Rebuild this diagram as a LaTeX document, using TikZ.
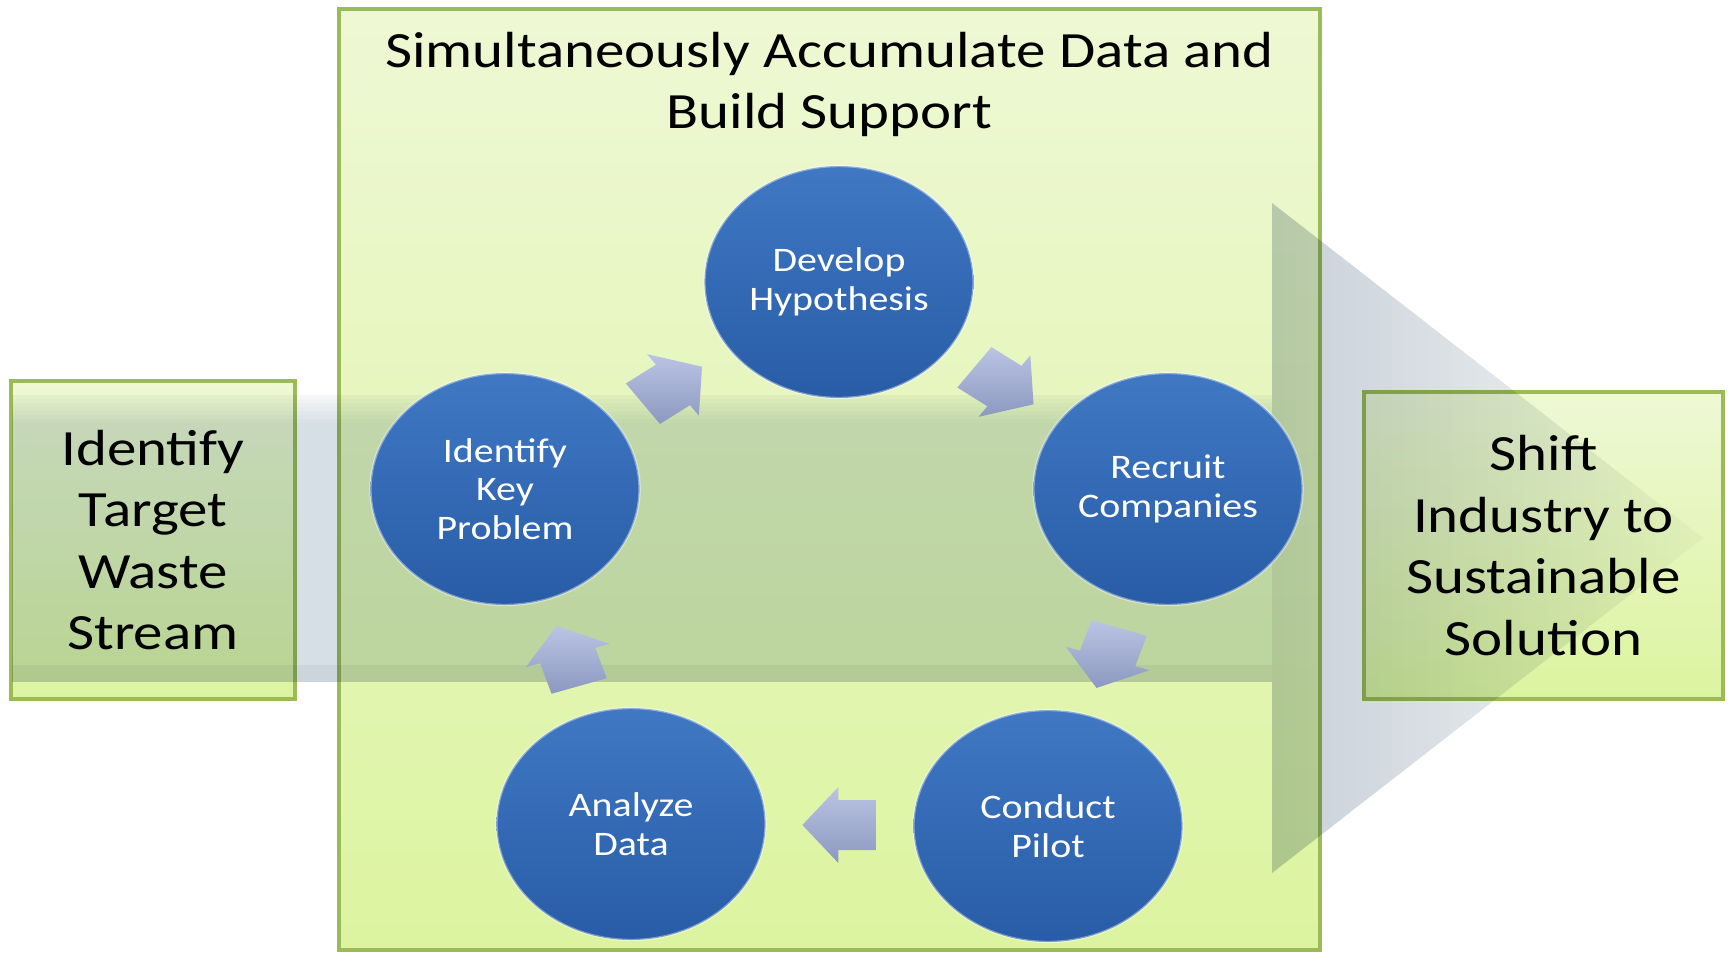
\documentclass[tikz,border=0pt]{standalone}
\usepackage{fontspec}
\setmainfont{Carlito}
\usetikzlibrary{calc}

\definecolor{boxline}{RGB}{155,187,89}
\definecolor{boxtop}{RGB}{238,248,212}
\definecolor{boxbot}{RGB}{220,244,160}
\definecolor{bandtop}{RGB}{244,246,247}
\definecolor{bandmid}{RGB}{214,222,230}
\definecolor{bandbot}{RGB}{204,212,222}
\definecolor{headleft}{RGB}{200,208,216}
\definecolor{headright}{RGB}{248,249,249}
\definecolor{blobtop}{RGB}{64,120,196}
\definecolor{blobbot}{RGB}{40,92,166}
\definecolor{cyctop}{RGB}{186,196,228}
\definecolor{cycbot}{RGB}{140,152,192}

\tikzset{every picture/.style={line width=0.75pt}}
\tikzset{cycarrow/.pic={
  \path[top color=cyctop, bottom color=cycbot] (-31,-25) -- (1,-25) -- (1,-38) -- (32,0) -- (1,38) -- (1,25) -- (-31,25) -- cycle;
}}

\begin{document}
\begin{tikzpicture}[x=0.25pt,y=0.25pt,yscale=-1,xscale=1,
  bigbox/.style={draw=boxline, line width=0.9pt, top color=boxtop, bottom color=boxbot, inner sep=0pt},
  sidebox/.style={bigbox, xscale=1.16, align=center, font=\fontsize{12.7}{15.4}\selectfont, minimum width=61.2pt, minimum height=79.5pt},
  headline/.style={xscale=1.16, align=center, font=\fontsize{12.7}{15.25}\selectfont, inner sep=0pt},
  blob/.style={circle, xscale=1.16, minimum size=58pt, inner sep=0pt, top color=blobtop, bottom color=blobbot, draw=white, draw opacity=0.4, line width=0.6pt, text=white, align=center, font=\fontsize{8.6}{9.6}\selectfont},
  tint/.style={blend mode=multiply}]
\useasboundingbox (0,0) rectangle (1732,953);

% boxes
\node[bigbox, minimum width=245.25pt, minimum height=235.25pt] (accum) at (829.5,479.5) {};
\node[headline] (ttl) at (829.5,84) {Simultaneously Accumulate Data and\\Build Support};
\node[sidebox] (ident) at (153,540) {Identify\\Target\\Waste\\Stream};
\node[sidebox, minimum width=77.4pt, minimum height=76.75pt] (shift) at (1543.5,545.5) {Shift\\Industry to\\Sustainable\\Solution};

% wide arrow
\foreach \j in {0,...,7}
  \pgfmathsetmacro\q{100-\j*100/7}
  \fill[tint, bandtop!\q!bandmid] (12,395+\j*4) rectangle (1272,399+\j*4);
\fill[tint, bandmid] (12,427) rectangle (1272,665);
\fill[tint, bandbot] (12,665) rectangle (1272,682);
\begin{scope}
  \clip (1272,203) -- (1703,538) -- (1272,873) -- cycle;
  \foreach \i in {0,...,35}
    \pgfmathsetmacro\p{100-\i*100/35}
    \fill[tint, headleft!\p!headright] (1272+\i*12,200) rectangle (1272+\i*12+12,880);
\end{scope}

% cycle
\node[blob] (dev) at (839,282) {Develop\\Hypothesis};
\node[blob] (idp) at (505,489) {Identify\\Key\\Problem};
\node[blob] (rec) at (1168,489) {Recruit\\Companies};
\node[blob] (pil) at (1048,826) {Conduct\\Pilot};
\node[blob] (ana) at (631,824) {Analyze\\Data};

\pic[xscale=1.16, rotate=36] at ($(idp)!0.5!(dev)$) {cycarrow};
\pic[xscale=1.16, rotate=-36] at ($(dev)!0.5!(rec)$) {cycarrow};
\pic[xscale=1.16, rotate=-108] at ($(rec)!0.5!(pil)$) {cycarrow};
\pic[xscale=1.16, rotate=180] at ($(pil)!0.5!(ana)$) {cycarrow};
\pic[xscale=1.16, rotate=108] at ($(ana)!0.5!(idp)$) {cycarrow};

\end{tikzpicture}
\end{document}
